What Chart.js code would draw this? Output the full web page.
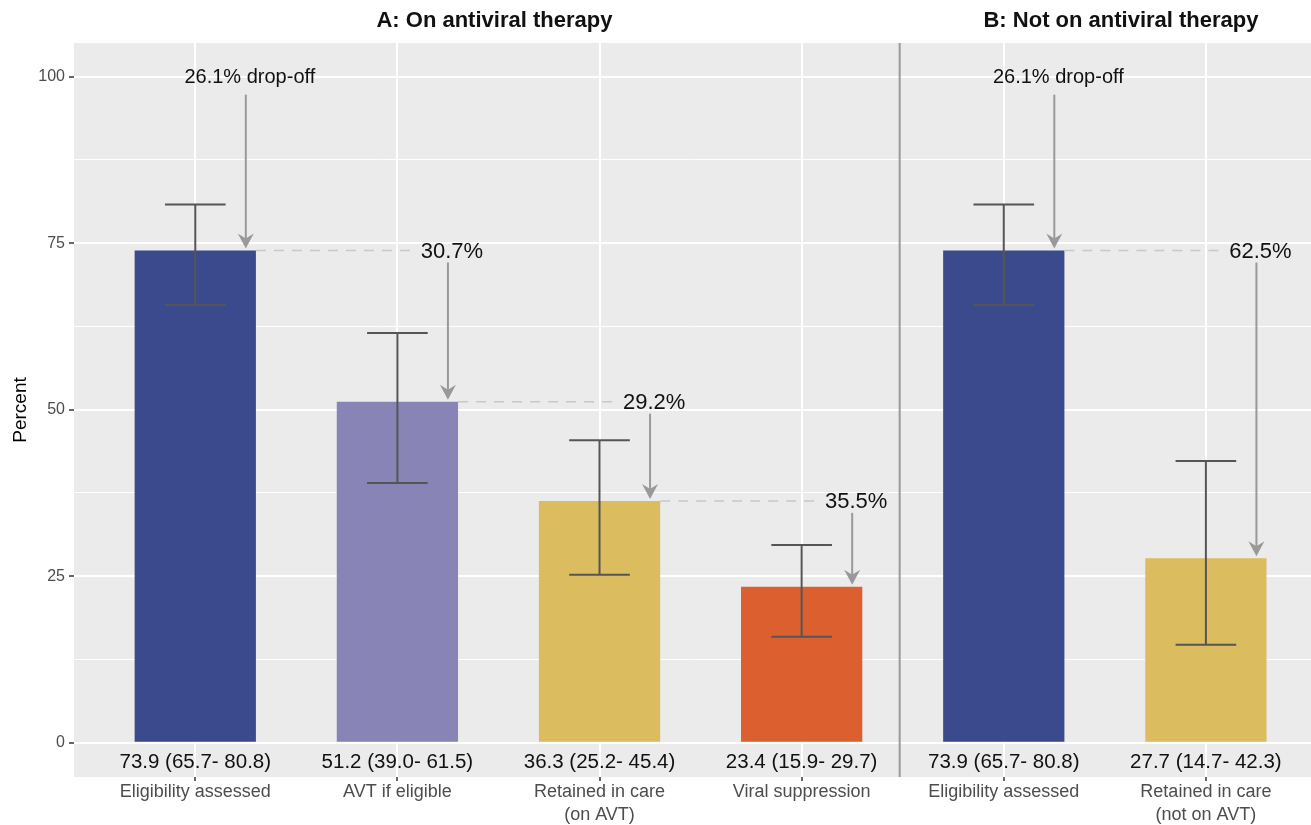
<!DOCTYPE html>
<html>
<head>
<meta charset="utf-8">
<script src="https://cdn.jsdelivr.net/npm/chart.js@4.4.1/dist/chart.umd.min.js"></script>
<style>
  body { margin: 0; background: #fff; }
  #wrap { width: 1311px; height: 825px; }
</style>
</head>
<body>
<div id="wrap"><canvas id="cascade"></canvas></div>
<script>
// Care cascade, two panels: A (steps 1-4) and B (steps 5-6)
const categories = [
    ['Eligibility assessed'],
    ['AVT if eligible'],
    ['Retained in care', '(on AVT)'],
    ['Viral suppression'],
    ['Eligibility assessed'],
    ['Retained in care', '(not on AVT)']
];
const values = [73.9, 51.2, 36.3, 23.4, 73.9, 27.7];
const lower = [65.7, 39.0, 25.2, 15.9, 65.7, 14.7];
const upper = [80.8, 61.5, 45.4, 29.7, 80.8, 42.3];
const dropLabels = ['26.1% drop-off', '30.7%', '29.2%', '35.5%', '26.1% drop-off', '62.5%'];
const dropFrom = [null, 0, 1, 2, null, 4]; // previous step, null = first step of a panel
const panelTitles = ['A: On antiviral therapy', 'B: Not on antiviral therapy'];
const yTicks = [0, 12.5, 25, 37.5, 50, 62.5, 75, 87.5, 100];
const barColors = ['#3B4A8C', '#8884B5', '#DBBC5E', '#DC602F', '#3B4A8C', '#DBBC5E'];

Chart.defaults.font.family = "'Liberation Sans', Arial, sans-serif";

const FONT = "'Liberation Sans', Arial, sans-serif";

const annotations = {
    id: 'annotations',
    beforeDraw(chart) {
        const { ctx, chartArea: a } = chart;
        ctx.save();
        ctx.fillStyle = '#EBEBEB';
        ctx.fillRect(a.left, a.top, a.right - a.left, a.bottom - a.top);
        ctx.restore();
    },
    beforeDatasetsDraw(chart) {
        // separator line between the two panels
        const { ctx, chartArea: a, scales: { x } } = chart;
        const px = x.getPixelForValue(4.485);
        ctx.save();
        ctx.strokeStyle = '#9A9A9A';
        ctx.lineWidth = 2;
        ctx.beginPath();
        ctx.moveTo(px, a.top);
        ctx.lineTo(px, a.bottom);
        ctx.stroke();
        ctx.restore();
    },
    afterDatasetsDraw(chart) {
        const { ctx, scales: { x, y } } = chart;
        ctx.save();

        // error bars
        ctx.strokeStyle = '#555555';
        ctx.lineWidth = 2;
        values.forEach((v, i) => {
            const cx = x.getPixelForValue(i + 1);
            const half = x.getPixelForValue(i + 1.15) - cx;
            const yLo = y.getPixelForValue(lower[i]);
            const yHi = y.getPixelForValue(upper[i]);
            ctx.beginPath();
            ctx.moveTo(cx, yLo); ctx.lineTo(cx, yHi);
            ctx.moveTo(cx - half, yLo); ctx.lineTo(cx + half, yLo);
            ctx.moveTo(cx - half, yHi); ctx.lineTo(cx + half, yHi);
            ctx.stroke();
        });

        // dashed connectors from previous bar top
        ctx.strokeStyle = '#C8C8C8';
        ctx.lineWidth = 1.5;
        ctx.setLineDash([10, 8]);
        values.forEach((v, i) => {
            const p = dropFrom[i];
            if (p === null) return;
            const yy = y.getPixelForValue(values[p]);
            ctx.beginPath();
            ctx.moveTo(x.getPixelForValue(p + 1.3), yy);
            ctx.lineTo(x.getPixelForValue(i + 1.1), yy);
            ctx.stroke();
        });
        ctx.setLineDash([]);

        // drop-off arrows and labels
        values.forEach((v, i) => {
            const p = dropFrom[i];
            const first = p === null;
            const labelY = y.getPixelForValue(first ? 100 : values[p]);
            const ax = x.getPixelForValue(i + 1.25);
            const y0 = labelY + (first ? 18 : 12);
            const tip = y.getPixelForValue(v) - 2;

            ctx.strokeStyle = '#999999';
            ctx.fillStyle = '#999999';
            ctx.lineWidth = 2;
            ctx.beginPath();
            ctx.moveTo(ax, y0);
            ctx.lineTo(ax, tip - 8);
            ctx.stroke();
            ctx.beginPath();
            ctx.moveTo(ax, tip);
            ctx.lineTo(ax - 8, tip - 15);
            ctx.lineTo(ax, tip - 10);
            ctx.lineTo(ax + 8, tip - 15);
            ctx.closePath();
            ctx.fill();

            ctx.fillStyle = '#111111';
            ctx.font = (first ? '20px ' : '22px ') + FONT;
            ctx.textAlign = 'center';
            ctx.textBaseline = 'middle';
            ctx.fillText(dropLabels[i], x.getPixelForValue(i + 1.27), labelY + 1);
        });

        // value (CI) labels under the bars
        ctx.fillStyle = '#111111';
        ctx.font = '20.5px ' + FONT;
        ctx.textAlign = 'center';
        ctx.textBaseline = 'middle';
        const y0 = y.getPixelForValue(0);
        values.forEach((v, i) => {
            const txt = v.toFixed(1) + ' (' + lower[i].toFixed(1) + '- ' + upper[i].toFixed(1) + ')';
            ctx.fillText(txt, x.getPixelForValue(i + 1), y0 + 20);
        });

        // panel titles
        ctx.font = 'bold 22px ' + FONT;
        ctx.textBaseline = 'alphabetic';
        ctx.fillText(panelTitles[0], x.getPixelForValue(2.48), 27);
        ctx.fillText(panelTitles[1], x.getPixelForValue(5.58), 27);

        ctx.restore();
    }
};

new Chart(document.getElementById('cascade'), {
    type: 'bar',
    data: {
        datasets: [{
            data: values.map((v, i) => ({ x: i + 1, y: v })),
            backgroundColor: barColors,
            borderWidth: 0,
            categoryPercentage: 1,
            barPercentage: 0.6
        }]
    },
    options: {
        responsive: true,
        maintainAspectRatio: false,
        animation: false,
        layout: { padding: { top: 43, right: 0, bottom: 0, left: 0 } },
        plugins: {
            legend: { display: false },
            tooltip: { enabled: false }
        },
        scales: {
            x: {
                type: 'linear',
                min: 0.4,
                max: 6.52,
                offset: false,
                afterBuildTicks: (scale) => {
                    scale.ticks = categories.map((c, i) => ({ value: i + 1 }));
                },
                afterFit: (scale) => { scale.height = 48; },
                border: { display: false },
                grid: {
                    offset: false,
                    color: '#FFFFFF',
                    lineWidth: 2,
                    tickLength: 4,
                    tickColor: '#333333',
                    tickWidth: 1.5
                },
                ticks: {
                    autoSkip: false,
                    maxRotation: 0,
                    minRotation: 0,
                    padding: 0,
                    color: '#4D4D4D',
                    font: { size: 18, lineHeight: 1.25 },
                    callback: (v) => categories[v - 1] || ''
                }
            },
            y: {
                min: -5.15,
                max: 105.05,
                afterBuildTicks: (scale) => {
                    scale.ticks = yTicks.map(v => ({ value: v }));
                },
                afterFit: (scale) => { scale.width = 74; },
                border: { display: false },
                grid: {
                    color: '#FFFFFF',
                    lineWidth: (c) => (c.tick && c.tick.value % 25 === 0 ? 2 : 1),
                    tickLength: 5,
                    tickColor: (c) => (c.tick && c.tick.value % 25 === 0 ? '#333333' : 'rgba(0,0,0,0)'),
                    tickWidth: 1.5
                },
                ticks: {
                    padding: 4,
                    color: '#4D4D4D',
                    font: { size: 16 },
                    callback: (v) => (v % 25 === 0 ? String(v) : '')
                },
                title: {
                    display: true,
                    text: 'Percent',
                    color: '#000000',
                    font: { size: 19 },
                    padding: { top: 9, bottom: 0 }
                }
            }
        }
    },
    plugins: [annotations]
});
</script>
</body>
</html>
